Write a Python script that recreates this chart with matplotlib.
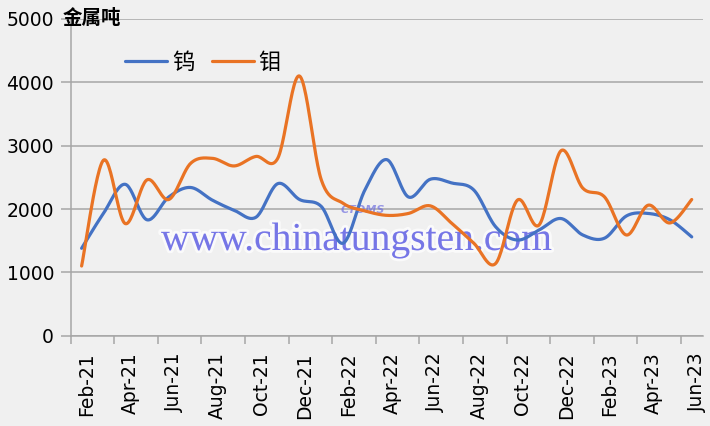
import numpy as np
import matplotlib.pyplot as plt
import matplotlib.patheffects as pe

plt.rcParams['font.family'] = ['Noto Sans CJK SC', 'DejaVu Sans']

# 月份 Feb-21 .. Jun-23
months = ['Feb-21', 'Mar-21', 'Apr-21', 'May-21', 'Jun-21', 'Jul-21', 'Aug-21', 'Sep-21',
          'Oct-21', 'Nov-21', 'Dec-21', 'Jan-22', 'Feb-22', 'Mar-22', 'Apr-22', 'May-22',
          'Jun-22', 'Jul-22', 'Aug-22', 'Sep-22', 'Oct-22', 'Nov-22', 'Dec-22', 'Jan-23',
          'Feb-23', 'Mar-23', 'Apr-23', 'May-23', 'Jun-23']

# 钨 (tungsten), 金属吨
tungsten = [1380, 1930, 2390, 1830, 2190, 2340, 2140, 1980, 1870, 2400,
            2150, 2040, 1460, 2300, 2780, 2190, 2470, 2410, 2300, 1720,
            1510, 1670, 1850, 1590, 1540, 1890, 1930, 1830, 1560]

# 钼 (molybdenum), 金属吨
molybdenum = [1100, 2770, 1770, 2460, 2150, 2720, 2800, 2680, 2830, 2800,
              4100, 2460, 2090, 1970, 1900, 1930, 2050, 1770, 1460, 1140,
              2140, 1750, 2920, 2330, 2190, 1590, 2060, 1780, 2150]

series = [('钨', tungsten, '#4472C4'), ('钼', molybdenum, '#E97324')]


def smooth(xs, ys, n=24):
    """Excel 风格的平滑线 (Catmull-Rom 贝塞尔)"""
    xs = np.asarray(xs, float)
    ys = np.asarray(ys, float)
    px, py = [], []
    m = len(xs)
    for i in range(m - 1):
        i0, i3 = max(i - 1, 0), min(i + 2, m - 1)
        p0 = np.array([xs[i], ys[i]])
        p3 = np.array([xs[i + 1], ys[i + 1]])
        c1 = p0 + (np.array([xs[i + 1], ys[i + 1]]) - np.array([xs[i0], ys[i0]])) / 6
        c2 = p3 - (np.array([xs[i3], ys[i3]]) - np.array([xs[i], ys[i]])) / 6
        t = np.linspace(0, 1, n, endpoint=(i == m - 2))[:, None]
        pts = ((1 - t) ** 3 * p0 + 3 * (1 - t) ** 2 * t * c1
               + 3 * (1 - t) * t ** 2 * c2 + t ** 3 * p3)
        px.extend(pts[:, 0])
        py.extend(pts[:, 1])
    return px, py


bg = '#F0F0F0'
grid_c = '#A6A6A6'

fig = plt.figure(figsize=(7.1, 4.26), dpi=100, facecolor=bg)
ax = fig.add_axes([0.0996, 0.212, 0.89, 0.7434], facecolor=bg)

x = np.arange(len(months))
for name, vals, color in series:
    sx, sy = smooth(x, vals)
    ax.plot(sx, sy, color=color, lw=2.3, label=name, solid_capstyle='round', zorder=3)

ax.set_xlim(-0.5, len(months) - 0.5)
ax.set_ylim(0, 5000)
ax.set_yticks(range(0, 5001, 1000))
ax.yaxis.grid(True, color=grid_c, lw=1.1)
ax.set_axisbelow(True)

# 刻度线在月份边界, 标签每两个月
ax.set_xticks(np.arange(-0.5, len(months) - 1, 2))
ax.set_xticklabels([])
ax.set_xticks(x[::2] + 0.25, minor=True)
ax.set_xticklabels(months[::2], minor=True, rotation=90, fontsize=13.5,
                   family=['DejaVu Sans'])
ax.tick_params(axis='x', which='major', length=6, color=grid_c, width=1.1)
ax.tick_params(axis='x', which='minor', length=0, pad=12)
ax.tick_params(axis='y', length=7, color=grid_c, width=1.1, pad=5)
for lab in ax.get_yticklabels():
    lab.set_family(['DejaVu Sans'])
    lab.set_fontsize(13.5)

for s in ['top', 'right']:
    ax.spines[s].set_visible(False)
for s in ['left', 'bottom']:
    ax.spines[s].set_color(grid_c)
    ax.spines[s].set_linewidth(1.1)

fig.text(63 / 710, 1 - 19 / 426, '金属吨', fontsize=14, fontweight='bold',
         ha='left', va='center')

ax.legend(loc='center left', bbox_to_anchor=(0.086, 0.862), ncol=2, frameon=False,
          fontsize=16, handlelength=1.9, handletextpad=0.2, columnspacing=0.8,
          borderpad=0, borderaxespad=0)

# 水印
ax.text(161 / 710, 1 - 250 / 426, 'www.chinatungsten.com', fontsize=28.5,
        family=['Liberation Serif'], color='#6464E4', alpha=0.85,
        ha='left', va='baseline', zorder=2, transform=fig.transFigure,
        path_effects=[pe.withStroke(linewidth=4, foreground='white', alpha=0.7)])
ax.text(363 / 710, 1 - 210 / 426, 'CTOMS', fontsize=8, fontweight='bold',
        style='italic', family=['DejaVu Sans'], color='#7070E0', alpha=0.7,
        ha='center', va='center', zorder=2, transform=fig.transFigure)

fig.savefig('out.png', dpi=100, facecolor=bg)
